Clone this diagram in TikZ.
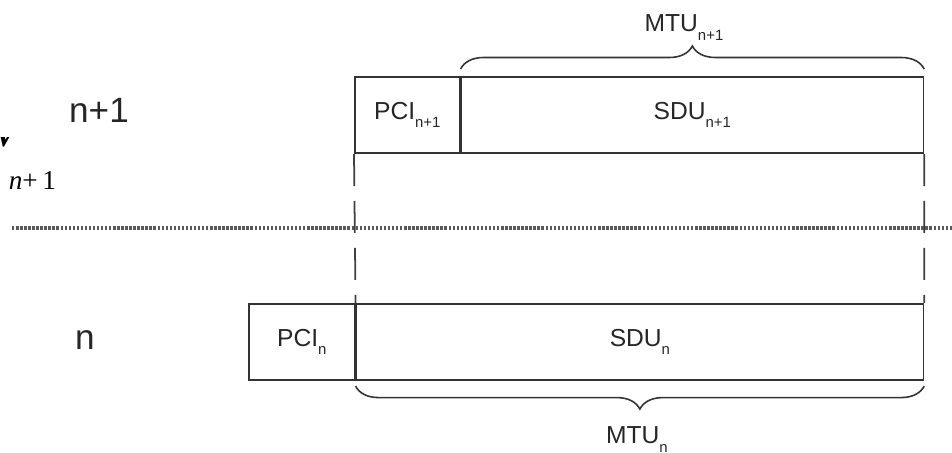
\documentclass[tikz,border=0pt]{standalone}
\usepackage{fontspec}
\setmainfont{Liberation Sans}
\newfontfamily\timesfont{Liberation Serif}
\usetikzlibrary{calc,decorations.pathreplacing}

% lowered small index, as the figure prints it
\newcommand{\lsub}[1]{\raisebox{-0.62ex}{\fontsize{8.5}{9}\selectfont #1}}

\begin{document}
\begin{tikzpicture}[
  cell/.style={draw=black!80, line width=0.9pt, minimum height=1.53cm,
    inner sep=0pt, anchor=north west, font=\fontsize{14}{16}\selectfont, text=black!85},
  guide/.style={draw=black!75, line width=1pt, dash pattern=on 18.2pt off 8.5pt},
  sep/.style={draw=black!65, line width=2pt, dash pattern=on 1.4pt off 0.9pt},
  mtubrace/.style={draw=black!80, line width=0.9pt,
    decorate, decoration={brace, amplitude=0.46cm}},
  lab/.style={font=\fontsize{14}{16}\selectfont, text=black!85, inner sep=0pt},
  layer/.style={font=\fontsize{20}{24}\selectfont, text=black!85}
]
\path[use as bounding box] (0,0) rectangle (19.04,9.06);

% layer n+1
\node[cell, minimum width=2.1cm] (pci1) at (7.08,7.54) {PCI\lsub{n+1}};
\node[cell, minimum width=9.24cm] (sdu1) at (pci1.north east) {SDU\lsub{n+1}};

% layer n
\node[cell, minimum width=2.12cm] (pci0) at (4.96,3.0) {PCI\lsub{n}};
\node[cell, minimum width=11.34cm] (sdu0) at (pci0.north east) {SDU\lsub{n}};

\node[layer] (ln1) at (1.98,6.86) {n+1};
\node[layer] (ln0) at (1.70,2.26) {n};

% layer boundary
\coordinate (sepL) at (0.24,4.5);
\coordinate (sepR) at (19.04,4.5);
\draw[sep] (sepL) -- (sepR);

\draw[guide] (pci1.south west) -- (sdu0.north west);
\draw[guide] (sdu1.south east) -- (sdu0.north east);

% MTU braces
\draw[mtubrace] ($(sdu1.north west)+(0,0.14)$) -- ($(sdu1.north east)+(0,0.14)$);
\draw[mtubrace] ($(sdu0.south east)+(0,-0.1)$) -- ($(sdu0.south west)+(0,-0.1)$);
\node[lab, anchor=base] (mtu1) at (13.68,8.42) {MTU\lsub{n+1}};
\node[lab, anchor=base] (mtu0) at (12.74,0.18) {MTU\lsub{n}};

% clipped formula at the left edge
\begin{scope}
  \clip (0,6.1) rectangle (0.2,6.3);
  \node[anchor=base west, inner sep=0pt, font=\timesfont\fontsize{26}{30}\selectfont\itshape]
    (vsym) at (-0.17,6.12) {V};
\end{scope}
\node[anchor=base west, inner sep=0pt, font=\timesfont\fontsize{15.5}{18}\selectfont]
  (vsub) at (0.17,5.26) {\textit{n}+\,1};
\end{tikzpicture}
\end{document}
